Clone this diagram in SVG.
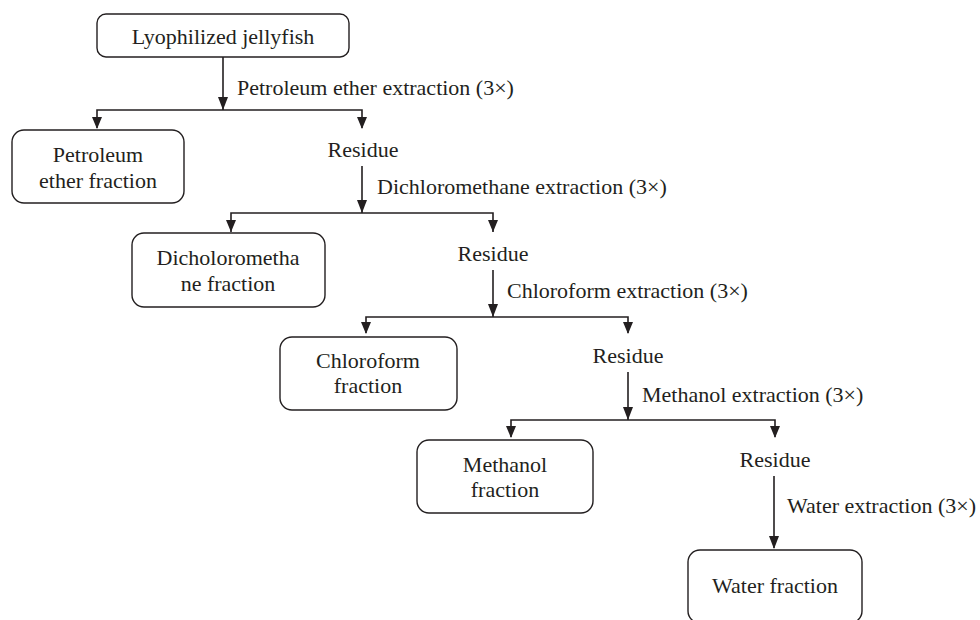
<svg xmlns="http://www.w3.org/2000/svg" width="980" height="620" viewBox="0 0 980 620" font-family="'Liberation Serif', Tinos, 'Times New Roman', 'DejaVu Serif', serif">
<style>
text{font-family:'Liberation Serif', Tinos, 'Times New Roman', 'DejaVu Serif', serif;font-size:22px;fill:#231f20}
.box{fill:#fff;stroke:#231f20;stroke-width:1.4}
.c{text-anchor:middle}
.ln{stroke:#231f20;stroke-width:1.6;fill:none}
.hd{fill:#231f20}
</style>
<rect width="980" height="620" fill="#fff"/>
<g id="connectors">
<line class="ln" x1="223" y1="57" x2="223" y2="110"/>
<path class="hd" d="M218,97 L228,97 L223,110 Z"/>
<polyline class="ln" points="97,128 97,110 362,110 362,128"/>
<path class="hd" d="M92,117 L102,117 L97,129 Z"/>
<path class="hd" d="M357,117 L367,117 L362,129 Z"/>

<line class="ln" x1="362" y1="166" x2="362" y2="213"/>
<path class="hd" d="M357,200 L367,200 L362,213 Z"/>
<polyline class="ln" points="231,232 231,213 493,213 493,232"/>
<path class="hd" d="M226,220 L236,220 L231,232 Z"/>
<path class="hd" d="M488,220 L498,220 L493,232 Z"/>

<line class="ln" x1="493" y1="270" x2="493" y2="317"/>
<path class="hd" d="M488,304 L498,304 L493,317 Z"/>
<polyline class="ln" points="366,333 366,317 628,317 628,333"/>
<path class="hd" d="M361,322 L371,322 L366,334 Z"/>
<path class="hd" d="M623,322 L633,322 L628,334 Z"/>

<line class="ln" x1="628" y1="372" x2="628" y2="420"/>
<path class="hd" d="M623,407 L633,407 L628,420 Z"/>
<polyline class="ln" points="511,437 511,420 775,420 775,437"/>
<path class="hd" d="M506,426 L516,426 L511,438 Z"/>
<path class="hd" d="M770,426 L780,426 L775,438 Z"/>

<line class="ln" x1="774" y1="476" x2="774" y2="548"/>
<path class="hd" d="M769,536 L779,536 L774,549 Z"/>

<text x="237" y="95">Petroleum ether extraction (3×)</text>
<text x="377" y="194">Dichloromethane extraction (3×)</text>
<text x="507" y="298">Chloroform extraction (3×)</text>
<text x="642" y="402">Methanol extraction (3×)</text>
<text x="787" y="513">Water extraction (3×)</text>
</g>
<g id="n-lyophilized">
<rect class="box" x="97" y="14" width="252" height="43" rx="9"/>
<text class="c" x="223" y="44">Lyophilized jellyfish</text>
</g>
<g id="n-petroleum">
<rect class="box" x="12" y="130" width="172" height="73" rx="12"/>
<text class="c" x="98" y="162">Petroleum</text>
<text class="c" x="98" y="188">ether fraction</text>
</g>
<g id="n-residue1"><text class="c" x="363" y="157">Residue</text></g>
<g id="n-dichloromethane">
<rect class="box" x="132" y="233" width="193" height="74" rx="12"/>
<text class="c" x="228" y="265">Dicholorometha</text>
<text class="c" x="228" y="291">ne fraction</text>
</g>
<g id="n-residue2"><text class="c" x="493" y="261">Residue</text></g>
<g id="n-chloroform">
<rect class="box" x="280" y="337" width="177" height="73" rx="12"/>
<text class="c" x="368" y="368">Chloroform</text>
<text class="c" x="368" y="393">fraction</text>
</g>
<g id="n-residue3"><text class="c" x="628" y="363">Residue</text></g>
<g id="n-methanol">
<rect class="box" x="417" y="440" width="176" height="73" rx="12"/>
<text class="c" x="505" y="472">Methanol</text>
<text class="c" x="505" y="497">fraction</text>
</g>
<g id="n-residue4"><text class="c" x="775" y="467">Residue</text></g>
<g id="n-water">
<rect class="box" x="688" y="550" width="174" height="73" rx="12"/>
<text class="c" x="775" y="593">Water fraction</text>
</g>
</svg>
